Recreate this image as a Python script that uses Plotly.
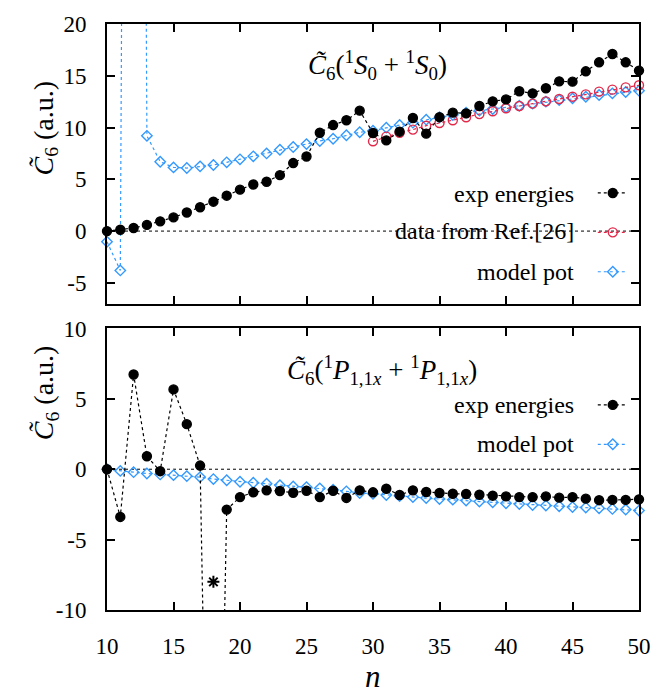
import plotly.graph_objects as go

n = list(range(10, 51))

# top panel: C6(1S0 + 1S0)
exp_S = [0, 0.13, 0.3, 0.6, 0.94, 1.32, 1.8, 2.3, 2.84, 3.42,
         4.0, 4.5, 4.77, 5.4, 6.57, 7.2, 9.5, 10.24, 10.7, 11.63,
         9.47, 8.76, 9.6, 10.92, 9.41, 11.0, 11.44, 11.37, 12.08, 12.53,
         12.72, 13.5, 13.3, 13.79, 14.46, 14.43, 15.43, 16.3, 17.1, 16.3, 15.5]
ref_n = list(range(30, 51))
ref_S = [8.67, 9.12, 9.5, 9.8, 10.18, 10.44, 10.7, 10.99, 11.3, 11.57,
         11.86, 12.08, 12.31, 12.53, 12.76, 12.98, 13.2, 13.47, 13.66, 13.88, 14.08]
model_S = [-1.03, -3.8, 250, 9.2, 6.7, 6.15, 6.09, 6.25, 6.38, 6.64,
           6.93, 7.22, 7.5, 7.86, 8.12, 8.4, 8.7, 8.92, 9.25, 9.54,
           9.7, 9.99, 10.24, 10.47, 10.76, 10.99, 11.21, 11.44, 11.63, 11.79,
           11.95, 12.11, 12.31, 12.5, 12.66, 12.82, 12.98, 13.14, 13.3, 13.43, 13.56]

# bottom panel: C6(1P1,1x + 1P1,1x)
exp_P = [0, -3.39, 6.73, 0.92, -0.14, 5.67, 3.2, 0.26, -50, -2.87,
         -1.98, -1.64, -1.5, -1.55, -1.67, -1.53, -1.98, -1.53, -2.04, -1.5,
         -1.64, -1.39, -1.83, -1.5, -1.62, -1.69, -1.74, -1.76, -1.81, -1.88,
         -1.93, -1.98, -1.98, -1.93, -2.02, -1.98, -2.09, -2.2, -2.18, -2.18, -2.14]
model_P = [0, -0.12, -0.21, -0.3, -0.37, -0.42, -0.49, -0.56, -0.7, -0.78,
           -0.89, -0.96, -1.03, -1.13, -1.22, -1.27, -1.36, -1.46, -1.57, -1.69,
           -1.74, -1.83, -1.9, -1.98, -2.05, -2.12, -2.16, -2.23, -2.3, -2.35,
           -2.42, -2.47, -2.54, -2.58, -2.63, -2.68, -2.72, -2.77, -2.82, -2.87, -2.94]
star_n = [18]
star_P = [-8]

x_ticks = [10, 15, 20, 25, 30, 35, 40, 45, 50]
x_ticktext = ["10", "15", "20", "25", "30", "35", "40", "45", "50"]
yS_ticks = [-5, 0, 5, 10, 15, 20]
yS_ticktext = ["-5", "0", "5", "10", "15", "20"]
yP_ticks = [-10, -5, 0, 5, 10]
yP_ticktext = ["-10", "-5", "0", "5", "10"]

legend_top = ["exp energies", "data from Ref.[26]", "model pot"]
legend_bot = ["exp energies", "model pot"]

BLACK = "#000000"
BLUE = "#3399ff"
RED = "#e3284a"
FONT = "Liberation Serif"

fig = go.Figure()

def line_marker(x, y, color, symbol, size, xa, ya, name):
    return go.Scatter(
        x=x, y=y, mode="lines+markers", name=name, xaxis=xa, yaxis=ya,
        line=dict(color=color, width=1.2, dash="dot"),
        marker=dict(symbol=symbol, size=size, color=color,
                    line=dict(color=color, width=1.4)),
        cliponaxis=False, showlegend=False)

# top panel traces
fig.add_trace(line_marker(n, model_S, BLUE, "diamond-open", 8, "x2", "y2", legend_top[2]))
fig.add_trace(line_marker(ref_n, ref_S, RED, "circle-open", 9, "x2", "y2", legend_top[1]))
fig.add_trace(line_marker(n, exp_S, BLACK, "circle", 9, "x2", "y2", legend_top[0]))

# bottom panel traces
fig.add_trace(line_marker(n, model_P, BLUE, "diamond-open", 8, "x", "y", legend_bot[1]))
fig.add_trace(line_marker(n, exp_P, BLACK, "circle", 9, "x", "y", legend_bot[0]))
fig.add_trace(go.Scatter(x=star_n, y=star_P, mode="markers", xaxis="x", yaxis="y",
                         marker=dict(symbol="asterisk-open", size=10, color=BLACK,
                                     line=dict(color=BLACK, width=2)),
                         showlegend=False, name="n=18"))

# legend keys (symbol only; text given by annotations)
def key(color, symbol, size, legend, group):
    return go.Scatter(
        x=[None], y=[None], mode="lines+markers", name=" ", legend=legend, legendgroup=group,
        line=dict(color=color, width=1.2, dash="dot"),
        marker=dict(symbol=symbol, size=size, color=color,
                    line=dict(color=color, width=1.4)),
        xaxis="x2", yaxis="y2")

fig.add_trace(key(BLACK, "circle", 9, "legend", "a"))
fig.add_trace(key(RED, "circle-open", 9, "legend", "b"))
fig.add_trace(key(BLUE, "diamond-open", 8, "legend", "c"))
fig.add_trace(key(BLACK, "circle", 9, "legend2", "d"))
fig.add_trace(key(BLUE, "diamond-open", 8, "legend2", "e"))

# zero lines
for xr, yr in (("x", "y"), ("x2", "y2")):
    fig.add_shape(type="line", xref=xr, yref=yr, x0=x_ticks[0], x1=x_ticks[-1], y0=0, y1=0,
                  line=dict(color=BLACK, width=1, dash="dot"), layer="below")

axis_common = dict(showline=True, linecolor=BLACK, linewidth=2, mirror="ticks",
                   ticks="inside", ticklen=8, tickwidth=1.5, tickcolor=BLACK,
                   showgrid=False, zeroline=False,
                   tickfont=dict(family=FONT, size=23, color=BLACK))

top_dom = [(610 - 302) / 589, 1.0]
bot_dom = [0.0, (610 - 327) / 589]

fig.update_layout(
    width=663, height=696,
    margin=dict(l=107, r=15, t=21, b=86),
    paper_bgcolor="white", plot_bgcolor="white",
    font=dict(family=FONT, color=BLACK),
    xaxis=dict(domain=[0, 1], range=[10, 50], anchor="y", tickvals=x_ticks,
               ticktext=x_ticktext, ticklabelstandoff=14, **axis_common),
    yaxis=dict(domain=bot_dom, range=[-10, 10], anchor="x", tickvals=yP_ticks,
               ticktext=yP_ticktext, ticklabelstandoff=14, **axis_common),
    xaxis2=dict(domain=[0, 1], range=[10, 50], anchor="y2", tickvals=x_ticks,
                showticklabels=False, matches="x", **axis_common),
    yaxis2=dict(domain=top_dom, range=[-7, 20], anchor="x2", tickvals=yS_ticks,
                ticktext=yS_ticktext, ticklabelstandoff=14, **axis_common),
    legend=dict(x=(601 - 107) / 541, xanchor="left", y=(610 - 166) / 589, yanchor="top",
                bgcolor="rgba(0,0,0,0)", font=dict(size=28, family=FONT),
                tracegroupgap=0, itemwidth=30),
    legend2=dict(x=(601 - 107) / 541, xanchor="left", y=(610 - 379) / 589, yanchor="top",
                 bgcolor="rgba(0,0,0,0)", font=dict(size=28, family=FONT),
                 tracegroupgap=0, itemwidth=30),
    showlegend=True,
)

def px_x(p):
    return (p - 107) / 541

def px_y(p):
    return (610 - p) / 589

common = dict(xref="paper", yref="paper", showarrow=False, borderpad=0,
              font=dict(family=FONT, size=24, color=BLACK))

# legend texts
for txt, yy in zip(legend_top, [191.7, 228.7, 270.7]):
    fig.add_annotation(text=txt, x=px_x(583), y=px_y(yy), xanchor="right", yanchor="middle", **common)
for txt, yy in zip(legend_bot, [404, 443.3]):
    fig.add_annotation(text=txt, x=px_x(583), y=px_y(yy), xanchor="right", yanchor="middle", **common)

# panel titles
title_font = dict(family=FONT, size=27, color=BLACK)
fig.add_annotation(text="<i>C̃</i><sub>6</sub>(<sup>1</sup><i>S</i><sub>0</sub> + <sup>1</sup><i>S</i><sub>0</sub>)",
                   x=px_x(310), y=px_y(62), xanchor="left", yanchor="middle", borderpad=0,
                   xref="paper", yref="paper", showarrow=False, font=title_font)
fig.add_annotation(text="<i>C̃</i><sub>6</sub>(<sup>1</sup><i>P</i><sub>1,1<i>x</i></sub> + <sup>1</sup><i>P</i><sub>1,1<i>x</i></sub>)",
                   x=px_x(289), y=px_y(369), xanchor="left", yanchor="middle", borderpad=0,
                   xref="paper", yref="paper", showarrow=False, font=title_font)

# y axis labels
ylab = "<i>C̃</i><sub>6</sub> (a.u.)"
for yy in (126, 392):
    fig.add_annotation(text=ylab, x=px_x(44), y=px_y(yy), xanchor="center", yanchor="middle",
                       textangle=-90, xref="paper", yref="paper", showarrow=False,
                       font=dict(family=FONT, size=28, color=BLACK))

# x axis label
fig.add_annotation(text="<i>n</i>", x=px_x(378), y=px_y(695), xanchor="center", yanchor="bottom",
                   xref="paper", yref="paper", showarrow=False, borderpad=0,
                   font=dict(family=FONT, size=31, color=BLACK))

fig.write_html("out.html")
